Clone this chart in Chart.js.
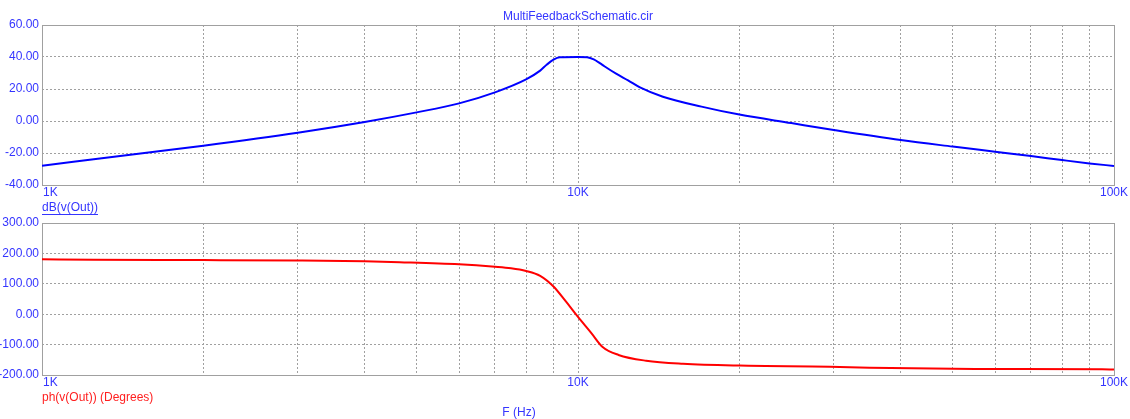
<!DOCTYPE html>
<html><head><meta charset="utf-8">
<script src="https://cdn.jsdelivr.net/npm/chart.js@4.4.1/dist/chart.umd.min.js"></script>
<style>
html,body{margin:0;padding:0;background:#fff;overflow:hidden}
#wrap{position:relative;width:1130px;height:419px}
canvas{position:absolute;left:0;top:0}
</style></head><body>
<div id="wrap"><canvas id="c1" width="1130" height="419"></canvas><canvas id="c2" width="1130" height="419"></canvas></div>
<script>
// ---- data ----
const magFreq = [1000,1500,2000,3000,4000,5000,6000,7000,8000,8500,8750,9000,9250,10000,10400,10700,11000,11200,11800,12400,13050,14400,17000,20000,25000,30000,40000,50000,60000,70000,80000,90000,100000];
const magDb   = [-28,-20.6,-15.4,-7.3,-0.6,5.4,11,17.9,26,31.5,35.3,38.3,39.8,40,39.8,38.5,36,34.2,29.4,25.4,21,15.2,9,4,-1.3,-5.6,-11.9,-16,-19.2,-21.9,-24.4,-26.5,-28.1];
const phaseFreq = [1000,1250,2000,3000,4000,4650,6000,7000,7500,8000,8500,9000,9500,10000,10600,11100,11900,13400,15700,20000,29500,35000,55000,95000,100000];
const phaseDeg  = [181,179,178,176.5,174,171,164,156,151,142,126,91,41,-9,-63,-107,-134,-153,-163,-169,-172.6,-176,-180,-181,-182];
const xTickValues = [1000,10000,100000];
const xTickLabels = ['1K','10K','100K'];
const gridMultipliers = [1,2,3,4,5,6,7,8,9];
const gridDecades = [1000,10000];
const dbRange = [-40,60,20];
const phRange = [-200,300,100];
const titleText = 'MultiFeedbackSchematic.cir';
const magLabel = 'dB(v(Out))';
const phaseLabel = 'ph(v(Out)) (Degrees)';
const xAxisTitle = 'F (Hz)';

// ---- styling ----
const FONT = "'Liberation Sans', Arial, sans-serif";
const TXT_BLUE = '#3535ff';
const GRID = '#a0a0a0';
const BORDER = '#a0a0a0';
Chart.defaults.font.family = FONT;
Chart.defaults.font.size = 12;

const gridValues = [];
gridDecades.forEach(d => gridMultipliers.forEach(m => gridValues.push(d*m)));
gridValues.push(100000);

function panelPlugin(opts){
  return {
    id:'panel'+opts.key,
    beforeDatasetsDraw(chart){
      const a = chart.chartArea, ctx = chart.ctx;
      ctx.save();
      ctx.strokeStyle = BORDER; ctx.lineWidth = 1;
      ctx.strokeRect(Math.round(a.left)+0.5, Math.round(a.top)+0.5, Math.round(a.right-a.left), Math.round(a.bottom-a.top));
      ctx.restore();
    },
    afterDraw(chart){
      const a = chart.chartArea, ctx = chart.ctx, xs = chart.scales.x;
      ctx.save();
      ctx.font = '12px ' + FONT;
      ctx.textBaseline = 'middle';
      ctx.fillStyle = TXT_BLUE;
      xTickValues.forEach((v,i) => {
        const px = xs.getPixelForValue(v);
        ctx.textAlign = i === 0 ? 'left' : 'center';
        ctx.fillText(xTickLabels[i], i === 0 ? px+1 : px, a.bottom + 8);
      });
      ctx.textAlign = 'left';
      ctx.fillStyle = opts.labelColor;
      ctx.fillText(opts.label, a.left, a.bottom + 23);
      if (opts.underline){
        const w = ctx.measureText(opts.label).width;
        ctx.strokeStyle = opts.labelColor; ctx.lineWidth = 1;
        ctx.beginPath(); ctx.moveTo(a.left, a.bottom+29.5); ctx.lineTo(a.left+w, a.bottom+29.5); ctx.stroke();
      }
      if (opts.title){
        ctx.fillStyle = TXT_BLUE; ctx.textAlign = 'center';
        ctx.fillText(opts.title, (a.left+a.right)/2, a.top - 8);
      }
      if (opts.xTitle){
        ctx.fillStyle = TXT_BLUE; ctx.textAlign = 'center';
        ctx.fillText(opts.xTitle, 519, a.bottom + 37.5);
      }
      ctx.restore();
    }
  };
}

function makeChart(id, freqs, vals, color, range, padding, pOpts){
  return new Chart(document.getElementById(id), {
    type:'line',
    data:{ datasets:[{ data: freqs.map((f,i)=>({x:f,y:vals[i]})), borderColor:color, borderWidth:2, pointRadius:0, cubicInterpolationMode:'monotone', fill:false }]},
    options:{
      responsive:false, animation:false, devicePixelRatio:1,
      layout:{ padding: padding },
      plugins:{ legend:{display:false}, tooltip:{enabled:false} },
      scales:{
        x:{ type:'logarithmic', min:1000, max:100000,
            afterBuildTicks(s){ s.ticks = gridValues.map(v=>({value:v})); },
            afterFit(s){ s.height = 0; },
            ticks:{ display:false, autoSkip:false },
            grid:{ color:GRID, drawTicks:false, lineWidth:1 },
            border:{ display:false, dash:[2,2] } },
        y:{ min:range[0], max:range[1],
            ticks:{ stepSize:range[2], color:TXT_BLUE, padding:3, callback:v=>v.toFixed(2), font:{size:12} },
            afterFit(s){ s.width = 42; },
            grid:{ color:GRID, drawTicks:false, lineWidth:1 },
            border:{ display:false, dash:[2,2] } }
      }
    },
    plugins:[panelPlugin(pOpts)]
  });
}

makeChart('c1', magFreq, magDb, '#0000ff', dbRange, {top:25,bottom:234,left:0,right:16},
  {key:'mag', label:magLabel, labelColor:TXT_BLUE, underline:true, title:titleText});
makeChart('c2', phaseFreq, phaseDeg, '#ff0000', phRange, {top:223,bottom:44,left:0,right:16},
  {key:'ph', label:phaseLabel, labelColor:'#ff2020', underline:false, xTitle:xAxisTitle});
</script></body></html>
